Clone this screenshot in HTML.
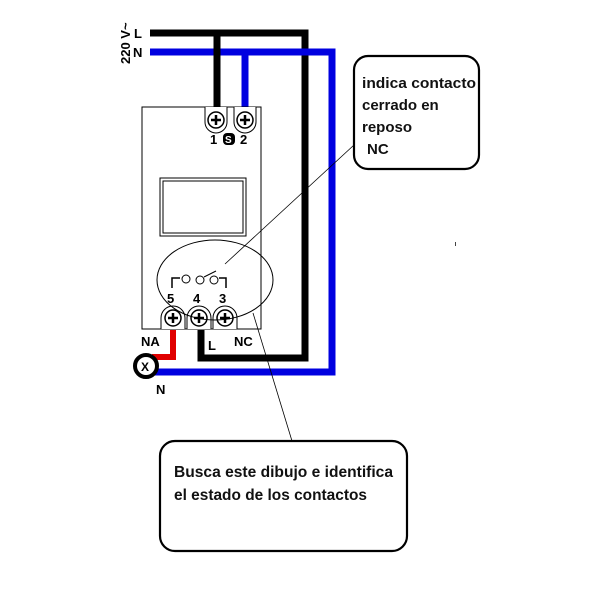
<!DOCTYPE html>
<html><head><style>body{margin:0;background:#fff}svg{display:block}</style></head><body>
<svg width="600" height="600" xmlns="http://www.w3.org/2000/svg" font-family="Liberation Sans, sans-serif">
<rect width="600" height="600" fill="#fff"/>
<path d="M150,33 H305 V358 H201 V330" fill="none" stroke="#000" stroke-width="7"/>
<path d="M150,52 H332 V372 H150" fill="none" stroke="#0000e0" stroke-width="7"/>
<path d="M217,33 V108" stroke="#000" stroke-width="7"/>
<path d="M245,52 V108" stroke="#0000e0" stroke-width="7"/>
<path d="M173,330 V357 H152" fill="none" stroke="#e00000" stroke-width="6"/>
<rect x="142" y="107" width="119" height="222" fill="#fff" stroke="#000" stroke-width="1"/>
<path d="M205,107 V122 A11,11 0 0 0 227,122 V107" fill="#fff" stroke="#000"/>
<path d="M234,107 V122 A11,11 0 0 0 256,122 V107" fill="#fff" stroke="#000"/>
<g stroke="#000" fill="#fff">
<circle cx="216" cy="120" r="8" stroke-width="1.5"/><circle cx="245" cy="120" r="8" stroke-width="1.5"/>
</g>
<g stroke="#000" stroke-width="2.5">
<path d="M211,120h10M216,115v10M240,120h10M245,115v10"/>
</g>
<text x="210" y="144" font-size="13" font-weight="bold">1</text>
<rect x="223" y="133" width="12" height="12" rx="4" fill="#000"/>
<text x="225" y="143" font-size="10" fill="#fff" font-weight="bold">S</text>
<text x="240" y="144" font-size="13" font-weight="bold">2</text>
<rect x="160" y="178" width="86" height="58" fill="#fff" stroke="#000"/>
<rect x="163" y="181" width="80" height="52" fill="none" stroke="#000"/>
<path d="M172,288 V278 H180" fill="none" stroke="#000" stroke-width="1.5"/>
<circle cx="186" cy="279" r="4" fill="#fff" stroke="#000"/>
<circle cx="200" cy="280" r="4" fill="#fff" stroke="#000"/>
<circle cx="214" cy="280" r="4" fill="#fff" stroke="#000"/>
<path d="M219,278 H226 V288" fill="none" stroke="#000" stroke-width="1.5"/>
<path d="M204,277 L216,271" stroke="#000"/>
<text x="167" y="303" font-size="13" font-weight="bold">5</text>
<text x="193" y="303" font-size="13" font-weight="bold">4</text>
<text x="219" y="303" font-size="13" font-weight="bold">3</text>
<g stroke="#000" fill="#fff">
<path d="M161,329 V318 A12,12 0 0 1 185,318 V329" />
<path d="M187,329 V318 A12,12 0 0 1 211,318 V329" />
<path d="M213,329 V318 A12,12 0 0 1 237,318 V329" />
<circle cx="173" cy="318" r="8" stroke-width="1.5"/><circle cx="199" cy="318" r="8" stroke-width="1.5"/><circle cx="225" cy="318" r="8" stroke-width="1.5"/>
</g>
<g stroke="#000" stroke-width="2.5"><path d="M168,318h10M173,313v10M194,318h10M199,313v10M220,318h10M225,313v10"/></g>
<ellipse cx="215" cy="280" rx="58" ry="40" fill="none" stroke="#000" stroke-width="1"/>
<circle cx="146" cy="366" r="11" fill="#fff" stroke="#000" stroke-width="4"/>
<text x="141" y="371" font-size="12" font-weight="bold">X</text>
<text x="141" y="346" font-size="13" font-weight="bold">NA</text>
<text x="208" y="350" font-size="13" font-weight="bold">L</text>
<text x="234" y="346" font-size="13" font-weight="bold">NC</text>
<text x="156" y="394" font-size="13" font-weight="bold">N</text>
<text x="134" y="38" font-size="13" font-weight="bold">L</text>
<text x="133" y="57" font-size="13" font-weight="bold">N</text>
<text transform="translate(130,64) rotate(-90)" font-size="13" font-weight="bold">220 V~</text>
<line x1="225" y1="264" x2="354" y2="145" stroke="#000" stroke-width="0.8"/>
<line x1="253" y1="313" x2="292" y2="441" stroke="#000" stroke-width="0.8"/>
<rect x="354" y="56" width="125" height="113" rx="14" fill="#fff" stroke="#000" stroke-width="2.2"/>
<g font-size="15" font-weight="bold" fill="#111">
<text x="362" y="88" textLength="114" lengthAdjust="spacingAndGlyphs">indica contacto</text>
<text x="362" y="110">cerrado en</text>
<text x="362" y="132">reposo</text>
<text x="367" y="154">NC</text>
</g>
<rect x="160" y="441" width="247" height="110" rx="15" fill="#fff" stroke="#000" stroke-width="2.2"/>
<g font-size="15.5" font-weight="bold" fill="#111">
<text x="174" y="477" textLength="219" lengthAdjust="spacingAndGlyphs">Busca este dibujo e identifica</text>
<text x="174" y="500" textLength="193" lengthAdjust="spacingAndGlyphs">el estado de los contactos</text>
</g>
<rect x="455" y="242" width="1" height="4" fill="#444"/>
</svg>
</body></html>
